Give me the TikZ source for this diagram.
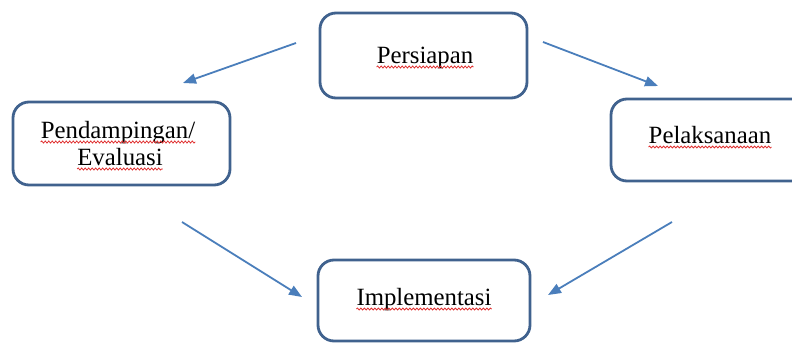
\documentclass[tikz,border=0pt]{standalone}
\usepackage{fontspec}
\setmainfont{Liberation Serif}
\usetikzlibrary{arrows.meta,decorations.pathmorphing}
\definecolor{boxline}{HTML}{40628E}
\definecolor{arrowblue}{HTML}{4A7EBB}
\definecolor{squigred}{HTML}{E03030}
\tikzset{
  stepbox/.style={draw=boxline, line width=2.8pt, rounded corners=16pt, fill=white, inner sep=0pt},
  label/.style={inner sep=0pt, font=\fontsize{24.8}{27}\selectfont, text=black},
  flow/.style={draw=arrowblue, line width=1.8pt, -{Triangle[length=13pt,width=10pt]}},
  squig/.style={draw=squigred, line width=0.8pt, decorate, decoration={snake, amplitude=1pt, segment length=3.5pt}}
}
\begin{document}
\begin{tikzpicture}[x=1pt,y=-1pt]
\useasboundingbox (0,0) rectangle (792,343);
\clip (0,0) rectangle (792,343);
% boxes
\node[stepbox, minimum width=207pt, minimum height=85pt] (persiapan) at (423.5,55.5) {};
\node[stepbox, minimum width=217pt, minimum height=83pt] (pendampingan) at (121.5,143.5) {};
\node[stepbox, minimum width=198pt, minimum height=82pt] (pelaksanaan) at (710,140) {};
\node[stepbox, minimum width=212pt, minimum height=81pt] (implementasi) at (424,300.5) {};
% texts
\node[label, anchor=base] (tpers) at (425,63) {Persiapan};
\node[label, anchor=base] (tpend) at (118,138) {Pendampingan/};
\node[label, anchor=base] (teval) at (120,165) {Evaluasi};
\node[label, anchor=base] (tpel) at (710,143) {Pelaksanaan};
\node[label, anchor=base] (timp) at (424,305) {Implementasi};
% spell-check squiggles
\foreach \t in {tpers,tpend,teval,tpel,timp}{
  \draw[squig] ([yshift=-4pt]\t.base west) -- ([yshift=-4pt]\t.base east);
}
% arrow end points
\coordinate (a1s) at (296,43);  \coordinate (a1e) at (183,83);
\coordinate (a2s) at (543,42);  \coordinate (a2e) at (658,86);
\coordinate (a3s) at (672,222); \coordinate (a3e) at (548,295);
\coordinate (a4s) at (182,222); \coordinate (a4e) at (302,297);
\draw[flow] (a1s) -- (a1e);
\draw[flow] (a2s) -- (a2e);
\draw[flow] (a3s) -- (a3e);
\draw[flow] (a4s) -- (a4e);
\end{tikzpicture}
\end{document}
